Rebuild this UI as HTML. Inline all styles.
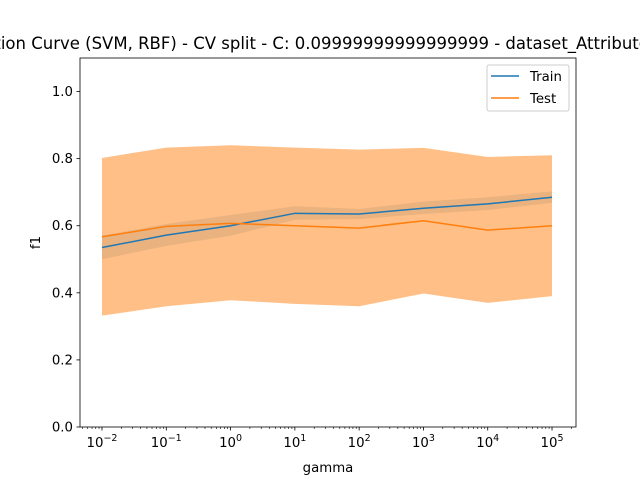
<!DOCTYPE html>
<html><head><meta charset="utf-8"><style>body{margin:0;background:#fff}svg{display:block;font-family:"DejaVu Sans","Liberation Sans",sans-serif}</style></head>
<body>
<svg id="chart" width="640" height="480">
<rect width="640" height="480" fill="#fff"/>
<text x="301" y="49" text-anchor="middle" font-size="16.5">Validation Curve (SVM, RBF) - CV split - C: 0.09999999999999999 - dataset_Attributes</text>
<g id="plot"></g>
</svg>
<script>
const gammaExp = [-2,-1,0,1,2,3,4,5];
const trainMean = [0.535,0.572,0.600,0.637,0.635,0.652,0.665,0.685];
const trainLow = [0.500,0.540,0.570,0.618,0.620,0.635,0.647,0.668];
const trainHigh = [0.570,0.605,0.632,0.658,0.650,0.672,0.685,0.702];
const testMean = [0.567,0.598,0.607,0.600,0.593,0.615,0.587,0.600];
const testLow = [0.332,0.360,0.378,0.367,0.360,0.398,0.370,0.390];
const testHigh = [0.802,0.833,0.840,0.833,0.827,0.832,0.805,0.810];
const yTicks = [0,0.2,0.4,0.6,0.8,1.0];
const yTickLabels = ["0.0","0.2","0.4","0.6","0.8","1.0"];

const L=80,R=576,T=58,B=427;
const xMin=-2.342,xMax=5.373,yMin=0,yMax=1.1;
const X=e=>L+(e-xMin)/(xMax-xMin)*(R-L);
const Y=v=>B-(v-yMin)/(yMax-yMin)*(B-T);
const NS='http://www.w3.org/2000/svg';
const g=document.getElementById('plot');
function mk(tag,attrs,parent){const el=document.createElementNS(NS,tag);for(const k in attrs)el.setAttribute(k,attrs[k]);(parent||g).appendChild(el);return el;}
function band(lo,hi,color,op,name){
  let d='M'+gammaExp.map((e,i)=>X(e)+','+Y(hi[i])).join('L');
  d+='L'+gammaExp.map((e,i)=>X(e)+','+Y(lo[i])).reverse().join('L')+'Z';
  const p=mk('path',{d:d,fill:color,'fill-opacity':op});
  
  
}
function line(v,color,name){
  const p=mk('polyline',{points:gammaExp.map((e,i)=>X(e)+','+Y(v[i])).join(' '),fill:'none',stroke:color,'stroke-width':1.5});
  
  
}
band(trainLow,trainHigh,'#1f77b4',0.2,'train-band');
band(testLow,testHigh,'#ff7f0e',0.5,'test-band');
line(trainMean,'#1f77b4','train-line');
line(testMean,'#ff7f0e','test-line');
const frame=mk('rect',{x:L,y:T,width:R-L,height:B-T,fill:'none',stroke:'#000','stroke-width':0.8});


yTicks.forEach((v,i)=>{
  mk('line',{x1:L-3.5,x2:L,y1:Y(v),y2:Y(v),stroke:'#000','stroke-width':0.8});
  const t=mk('text',{x:L-7,y:Y(v)+4.5,'text-anchor':'end','font-size':13.3});
  t.textContent=yTickLabels[i];
  
  
});
gammaExp.forEach(e=>{
  mk('line',{x1:X(e),x2:X(e),y1:B,y2:B+3.5,stroke:'#000','stroke-width':0.8});
  const t=mk('text',{x:X(e),y:B+20,'text-anchor':'middle','font-size':13.3});
  t.innerHTML='10<tspan dy="-6" font-size="9.5">'+(e<0?'\u2212'+(-e):e)+'</tspan>';
  
  
});
for(let d=-3;d<=5;d++){for(let k=2;k<10;k++){const e=d+Math.log10(k);if(e<xMin||e>xMax)continue;mk('line',{x1:X(e),x2:X(e),y1:B,y2:B+2,stroke:'#000','stroke-width':0.6});}}
const xl=mk('text',{x:(L+R)/2,y:B+45,'text-anchor':'middle','font-size':13.3});xl.textContent='gamma';


const yl=mk('text',{x:0,y:0,'text-anchor':'middle','font-size':13.3,transform:'translate(40,'+((T+B)/2)+') rotate(-90)'});yl.textContent='f1';


const lg=mk('g',{});


mk('rect',{x:487,y:65,width:82,height:46,rx:2,fill:'#fff','fill-opacity':0.8,stroke:'#ccc'},lg);
[['Train','#1f77b4',76],['Test','#ff7f0e',98]].forEach(([n,c,y])=>{
  mk('line',{x1:491,x2:519,y1:y,y2:y,stroke:c,'stroke-width':1.5},lg);
  const t=mk('text',{x:530,y:y+5,'font-size':13.3},lg);t.textContent=n;
  
  
});
</script>
</body></html>
